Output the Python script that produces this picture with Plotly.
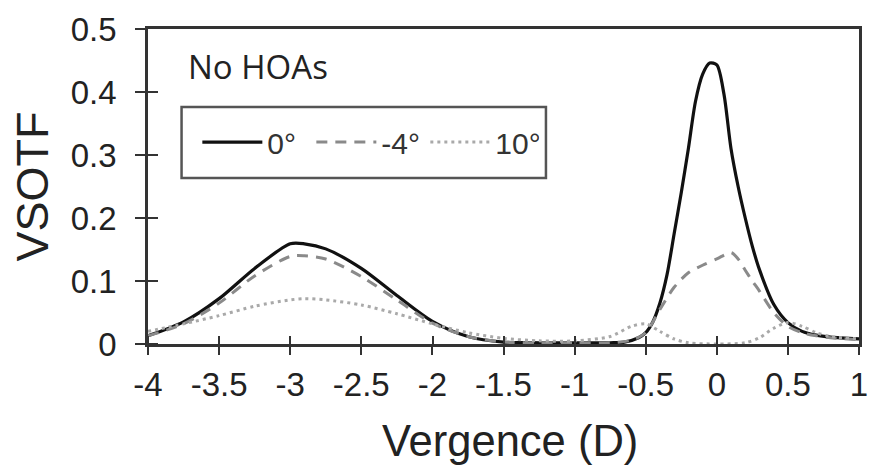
import plotly.graph_objects as go

# ---- data ----
x_0deg = [-4, -3.75, -3.5, -3.25, -3, -2.9, -2.75, -2.5, -2.25, -2, -1.75, -1.5, -1.25, -1,
          -0.75, -0.65, -0.55, -0.5, -0.45, -0.4, -0.35, -0.3, -0.25, -0.2, -0.15, -0.1,
          -0.05, 0, 0.05, 0.1, 0.15, 0.2, 0.25, 0.3, 0.4, 0.5, 0.6, 0.7, 0.8, 1.0]
y_0deg = [0.013, 0.035, 0.072, 0.12, 0.159, 0.159, 0.151, 0.12, 0.077, 0.036, 0.012, 0.003, 0.002, 0.002,
          0.002, 0.003, 0.01, 0.018, 0.035, 0.065, 0.11, 0.175, 0.24, 0.31, 0.385, 0.428,
          0.446, 0.443, 0.397, 0.31, 0.25, 0.2, 0.155, 0.118, 0.063, 0.034, 0.02, 0.014, 0.011, 0.008]

x_4deg = [-4, -3.75, -3.5, -3.25, -3, -2.9, -2.75, -2.5, -2.25, -2, -1.75, -1.5, -1.25, -1,
          -0.75, -0.6, -0.5, -0.4, -0.3, -0.2, -0.1, 0, 0.1, 0.15, 0.2, 0.25, 0.3, 0.4, 0.5,
          0.6, 0.7, 0.8, 1.0]
y_4deg = [0.013, 0.032, 0.065, 0.108, 0.139, 0.14, 0.135, 0.107, 0.07, 0.033, 0.012, 0.003, 0.002, 0.002,
          0.002, 0.006, 0.018, 0.055, 0.09, 0.113, 0.125, 0.135, 0.145, 0.135, 0.117, 0.1, 0.084, 0.05, 0.028,
          0.018, 0.013, 0.01, 0.007]

x_10deg = [-4, -3.75, -3.5, -3.25, -3, -2.9, -2.75, -2.5, -2.25, -2, -1.75, -1.5, -1.25, -1,
           -0.75, -0.6, -0.5, -0.4, -0.3, -0.2, 0, 0.2, 0.3, 0.4, 0.5, 0.6, 0.7, 0.8, 1.0]
y_10deg = [0.02, 0.032, 0.045, 0.06, 0.07, 0.072, 0.07, 0.062, 0.048, 0.032, 0.018, 0.009, 0.005, 0.005,
           0.012, 0.028, 0.032, 0.02, 0.008, 0.002, 0.0, 0.002, 0.01, 0.025, 0.034, 0.028, 0.018, 0.012, 0.008]

series_names = ["0°", "-4°", "10°"]

x_tickvals = [-4, -3.5, -3, -2.5, -2, -1.5, -1, -0.5, 0, 0.5, 1]
x_ticktext = ["-4", "-3.5", "-3", "-2.5", "-2", "-1.5", "-1", "-0.5", "0", "0.5", "1"]
y_tickvals = [0, 0.1, 0.2, 0.3, 0.4, 0.5]
y_ticktext = ["0", "0.1", "0.2", "0.3", "0.4", "0.5"]

x_title = "Vergence (D)"
y_title = "VSOTF"
panel_label = "No HOAs"

# ---- figure ----
fig = go.Figure()
fig.add_trace(go.Scatter(x=x_0deg, y=y_0deg, name=series_names[0], mode="lines",
                         line=dict(color="#111111", width=3.2, shape="spline", smoothing=0.8)))
fig.add_trace(go.Scatter(x=x_4deg, y=y_4deg, name=series_names[1], mode="lines",
                         line=dict(color="#8a8a8a", width=3, dash="11px,8px", shape="spline", smoothing=0.8)))
fig.add_trace(go.Scatter(x=x_10deg, y=y_10deg, name=series_names[2], mode="lines",
                         line=dict(color="#a9a9a9", width=3, dash="3px,4px", shape="spline", smoothing=0.8)))

tickfont = dict(family="Liberation Sans, Arial, sans-serif", size=33, color="#222222")
axcol = "#333333"

# inward half of the crossing tick marks (minor ticks at the major positions,
# nudged by a sub-pixel amount so they are not merged with the major ones)
x_inner = [v + 0.001 for v in x_tickvals]
y_inner = [v + 0.0001 for v in y_tickvals]

fig.update_layout(
    width=878, height=466,
    margin=dict(l=148, r=10, t=29, b=122),
    paper_bgcolor="white", plot_bgcolor="white",
    showlegend=True,
    legend=dict(
        orientation="h", x=0.0694, y=0.641, xanchor="left", yanchor="middle",
        borderwidth=0, bgcolor="rgba(0,0,0,0)",
        font=dict(family="Liberation Sans, Arial, sans-serif", size=30, color="#333333"),
        itemwidth=60, entrywidth=39, entrywidthmode="pixels", traceorder="normal",
    ),
    xaxis=dict(
        range=[-4, 1], tickvals=x_tickvals, ticktext=x_ticktext,
        ticks="outside", ticklen=8, tickwidth=2, tickcolor=axcol,
        minor=dict(tickmode="array", tickvals=x_inner, ticks="inside", ticklen=8,
                   tickwidth=2, tickcolor=axcol, showgrid=False),
        showline=True, linecolor=axcol, linewidth=2.5, mirror=True,
        showgrid=False, zeroline=False, tickfont=tickfont, ticklabelstandoff=2,
    ),
    yaxis=dict(
        range=[0, 0.5], tickvals=y_tickvals, ticktext=y_ticktext,
        ticks="outside", ticklen=10, tickwidth=2, tickcolor=axcol,
        minor=dict(tickmode="array", tickvals=y_inner, ticks="inside", ticklen=10,
                   tickwidth=2, tickcolor=axcol, showgrid=False),
        showline=True, linecolor=axcol, linewidth=2.5, mirror=True,
        showgrid=False, zeroline=False, tickfont=tickfont, ticklabelstandoff=12,
    ),
    shapes=[
        # frame drawn around the legend entries
        dict(type="rect", xref="paper", yref="paper", x0=0.0472, x1=0.5597, y0=0.527, y1=0.752,
             line=dict(color="#555555", width=2.5), fillcolor="rgba(0,0,0,0)", layer="above"),
    ],
    annotations=[
        dict(text=panel_label, xref="paper", yref="paper", x=0.054, y=0.88,
             xanchor="left", yanchor="middle", showarrow=False,
             font=dict(family="Open Sans, sans-serif", size=33, color="#222222")),
        dict(text=y_title, xref="paper", yref="paper", x=-0.163, y=0.5,
             xanchor="center", yanchor="middle", showarrow=False, textangle=-90,
             font=dict(family="Liberation Sans, Arial, sans-serif", size=45, color="#222222")),
        dict(text=x_title, xref="paper", yref="paper", x=0.509, y=-0.308,
             xanchor="center", yanchor="middle", showarrow=False,
             font=dict(family="Liberation Sans, Arial, sans-serif", size=43.5, color="#222222")),
    ],
)

fig.write_html("out.html")
